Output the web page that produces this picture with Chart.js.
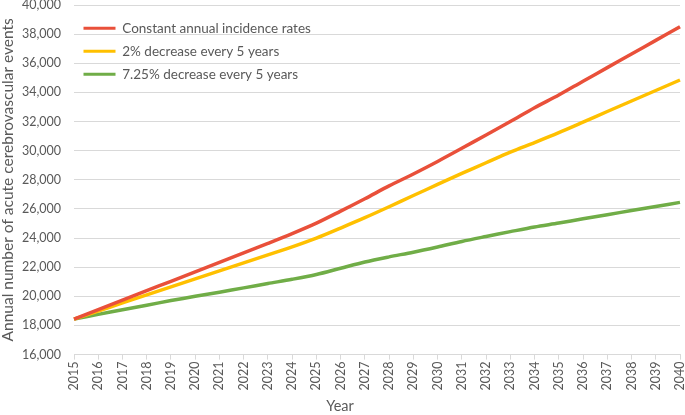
<!DOCTYPE html>
<html>
<head>
<meta charset="utf-8">
<script src="https://cdn.jsdelivr.net/npm/chart.js@4.4.0/dist/chart.umd.min.js"></script>
<style>
  html, body { margin: 0; padding: 0; background: #fff; }
</style>
</head>
<body>
<canvas id="chart" width="685" height="415"></canvas>
<script>
const years = ['2015', '2016', '2017', '2018', '2019', '2020', '2021', '2022', '2023', '2024', '2025', '2026', '2027',
  '2028', '2029', '2030', '2031', '2032', '2033', '2034', '2035', '2036', '2037', '2038', '2039', '2040'];

// acute cerebrovascular events per year
const constantRates = [18440, 19090, 19740, 20390, 21030, 21680, 22330, 22980, 23630, 24300, 25020, 25850, 26700,
  27580, 28400, 29260, 30160, 31080, 32000, 32950, 33820, 34770, 35700, 36640, 37570, 38510];
const decrease2 = [18440, 18990, 19550, 20100, 20650, 21200, 21750, 22300, 22850, 23400, 24000, 24690, 25400,
  26150, 26920, 27680, 28440, 29170, 29900, 30560, 31240, 31960, 32690, 33410, 34130, 34850];
const decrease725 = [18440, 18760, 19080, 19390, 19710, 20000, 20280, 20580, 20880, 21170, 21500, 21930, 22360,
  22710, 23030, 23390, 23770, 24110, 24440, 24760, 25030, 25320, 25600, 25890, 26170, 26450];

const seriesNames = ['Constant annual incidence rates', '2% decrease every 5 years', '7.25% decrease every 5 years'];
const yMin = 16000;
const yMax = 40000;
const yStep = 2000;

const textColor = '#595959';
const gridColor = '#d9d9d9';
const fontFamily = 'Lato, "Open Sans", sans-serif';

function lineSet(label, data, color) {
  return {
    label: label,
    data: data,
    borderColor: color,
    backgroundColor: color,
    borderWidth: 3.5,
    pointRadius: 0,
    fill: false,
    tension: 0.3,
  };
}

const ctx = document.getElementById('chart').getContext('2d');
new Chart(ctx, {
  type: 'line',
  data: {
    labels: years,
    datasets: [
      lineSet(seriesNames[0], constantRates, '#E9503A'),
      lineSet(seriesNames[1], decrease2, '#FFC000'),
      lineSet(seriesNames[2], decrease725, '#70AD47'),
    ],
  },
  options: {
    responsive: false,
    animation: false,
    layout: { padding: { top: 5, right: 5, left: 0, bottom: 0 } },
    scales: {
      x: {
        offset: false,
        afterFit: (scale) => {
          scale.height = 43;
          scale.paddingLeft = 0;
          scale.paddingRight = 0;
        },
        border: { display: true, color: gridColor, width: 1 },
        grid: {
          drawOnChartArea: false,
          drawTicks: true,
          tickLength: 5,
          color: gridColor,
        },
        ticks: {
          minRotation: 90,
          maxRotation: 90,
          autoSkip: false,
          padding: 2,
          color: textColor,
          font: { family: fontFamily, size: 12.5 },
        },
      },
      y: {
        min: yMin,
        max: yMax,
        afterFit: (scale) => {
          scale.width = 74;
          scale.paddingTop = 0;
          scale.paddingBottom = 0;
        },
        border: { display: false },
        grid: { color: gridColor, lineWidth: 1, drawTicks: false },
        ticks: {
          stepSize: yStep,
          padding: 13,
          color: textColor,
          font: { family: fontFamily, size: 12.5 },
          callback: (value) => value.toLocaleString('en-US'),
        },
        title: {
          display: true,
          text: 'Annual number of acute cerebrovascular events',
          color: textColor,
          padding: 0,
          font: { family: fontFamily, size: 15.5, lineHeight: 1 },
        },
      },
    },
    plugins: {
      legend: {
        position: 'chartArea',
        align: 'start',
        // empty title only pushes the legend rows down a bit
        title: { display: true, text: '', padding: 0, font: { size: 12, lineHeight: 1 } },
        labels: {
          boxWidth: 32,
          boxHeight: 3,
          padding: 9.5,
          color: textColor,
          font: { family: fontFamily, size: 13.5 },
          generateLabels: (chart) => Chart.defaults.plugins.legend.labels.generateLabels(chart)
            .map((item) => ({ ...item, fillStyle: item.strokeStyle, lineWidth: 0 })),
        },
      },
      title: {
        display: true,
        position: 'bottom',
        text: 'Year',
        color: textColor,
        padding: 0,
        font: { family: fontFamily, size: 14.5, weight: 'normal', lineHeight: 1.2 },
      },
      tooltip: { enabled: false },
    },
  },
});
</script>
</body>
</html>
